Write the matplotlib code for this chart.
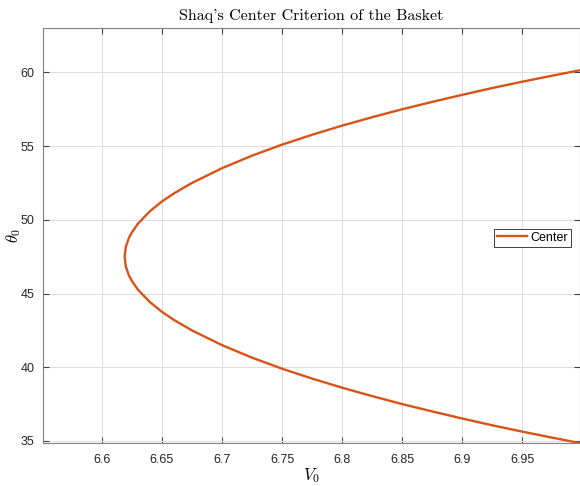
import matplotlib.pyplot as plt

# values (bottom branch -> vertex -> top branch)
theta0 = [34.86, 35.22, 35.63, 36.06, 36.52, 37.0, 37.5, 38.04, 38.61, 39.23,
          39.90, 40.65, 41.5, 42.5, 43.21, 43.76, 44.42, 45.27, 45.86, 46.24,
          46.83, 47.5, 48.17, 48.76, 49.14, 49.73, 50.58, 51.24, 51.79, 52.5,
          53.5, 54.35, 55.10, 55.77, 56.39, 56.96, 57.5, 58.0, 58.48, 58.94,
          59.37, 59.78, 60.14]
v0 = [6.9975, 6.975, 6.95, 6.925, 6.90, 6.875, 6.85, 6.825, 6.80, 6.775,
      6.75, 6.725, 6.70, 6.675, 6.66, 6.65, 6.64, 6.63, 6.625, 6.6225,
      6.62, 6.619, 6.62, 6.6225, 6.625, 6.63, 6.64, 6.65, 6.66, 6.675,
      6.70, 6.725, 6.75, 6.775, 6.80, 6.825, 6.85, 6.875, 6.90, 6.925,
      6.95, 6.975, 6.9975]
xticks = [6.6, 6.65, 6.7, 6.75, 6.8, 6.85, 6.9, 6.95]
xtick_labels = ["6.6", "6.65", "6.7", "6.75", "6.8", "6.85", "6.9", "6.95"]
yticks = [35, 40, 45, 50, 55, 60]

plt.rcParams['mathtext.fontset'] = 'cm'
plt.rcParams['font.family'] = ['Liberation Sans', 'DejaVu Sans']

fig = plt.figure(figsize=(5.8, 4.86), dpi=100)
ax = fig.add_axes([0.074, 0.0885, 0.926, 0.8535])

ax.plot(v0, theta0, color='#D95319', lw=1.7, label='Center',
        solid_joinstyle='round')

ax.set_xlim(6.551, 6.998)
ax.set_ylim(34.86, 63.0)
ax.set_xticks(xticks)
ax.set_xticklabels(xtick_labels)
ax.set_yticks(yticks)

ax.grid(True, color='#dcdcdc', lw=0.7)
ax.set_axisbelow(True)
for s in ax.spines.values():
    s.set_color('#808080')
    s.set_linewidth(0.8)
ax.tick_params(direction='in', length=4, width=0.8, color='#404040',
               labelsize=9, labelcolor='#262626', top=True, right=True)
ax.tick_params(axis='x', pad=8)
ax.tick_params(axis='y', pad=6)

ax.set_title("Shaq's Center Criterion of the Basket", fontfamily='cmr10',
             fontsize=11.5, pad=6)
ax.set_xlabel(r'$V_0$', fontsize=12, labelpad=0)
ax.set_ylabel(r'$\theta_0$', fontsize=12, labelpad=-2)

leg = ax.legend(loc='center right', bbox_to_anchor=(0.984, 0.495),
                fontsize=9, fancybox=False, framealpha=1,
                handlelength=2.4, handletextpad=0.3, borderpad=0.25,
                borderaxespad=0)
leg.get_frame().set_edgecolor('#404040')
leg.get_frame().set_linewidth(0.7)

fig.savefig('out.png', dpi=100)
